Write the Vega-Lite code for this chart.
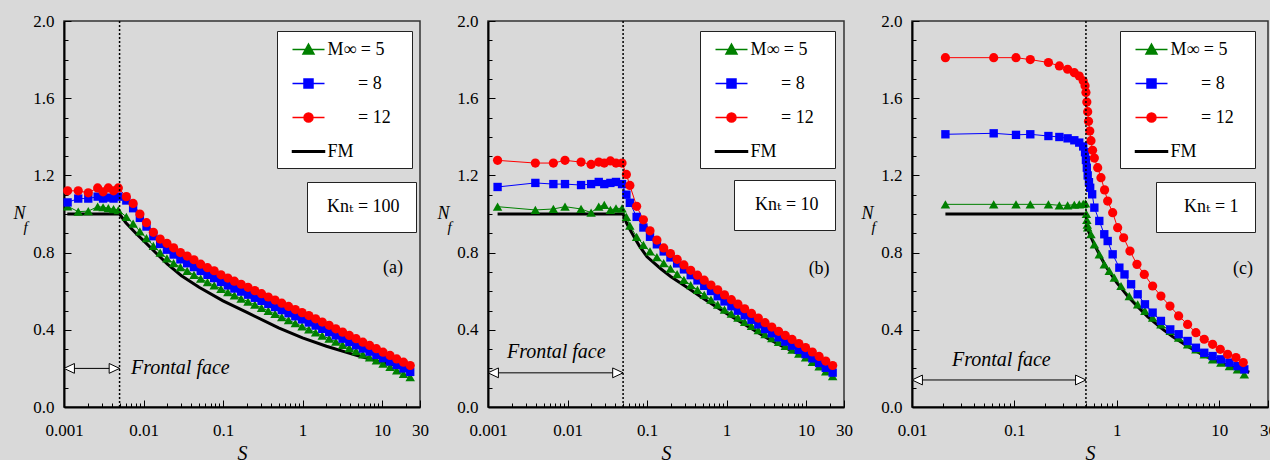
{
"$schema":"https://vega.github.io/schema/vega-lite/v6.json",
"background":"#d9d9d9",
"padding":{"left":12,"top":11,"right":0,"bottom":0},
"bounds":"flush",
"spacing":68,
"resolve":{"scale":{"color":"independent","fill":"independent","stroke":"independent","shape":"independent","strokeDash":"independent"},"legend":{"fill":"independent","stroke":"independent","shape":"independent","strokeDash":"independent"}},
"datasets":{
"a":[
{"s":"M5","x":0.00111,"y":1.04},{"s":"M5","x":0.00151,"y":1.012},{"s":"M5","x":0.00202,"y":1.015},{"s":"M5","x":0.00265,"y":1.038},{"s":"M5","x":0.0031,"y":1.035},{"s":"M5","x":0.00361,"y":1.03},{"s":"M5","x":0.0042,"y":1.025},{"s":"M5","x":0.00482,"y":1.02},
{"s":"M5","x":0.00608,"y":0.985},{"s":"M5","x":0.0074,"y":0.95},{"s":"M5","x":0.009,"y":0.91},{"s":"M5","x":0.0109,"y":0.875},{"s":"M5","x":0.0133,"y":0.835},{"s":"M5","x":0.0162,"y":0.8},{"s":"M5","x":0.0197,"y":0.77},{"s":"M5","x":0.0239,"y":0.745},{"s":"M5","x":0.0291,"y":0.725},{"s":"M5","x":0.0354,"y":0.705},{"s":"M5","x":0.0431,"y":0.685},{"s":"M5","x":0.0524,"y":0.665},{"s":"M5","x":0.0637,"y":0.647},{"s":"M5","x":0.0774,"y":0.63},{"s":"M5","x":0.0942,"y":0.612},{"s":"M5","x":0.115,"y":0.595},{"s":"M5","x":0.139,"y":0.578},{"s":"M5","x":0.169,"y":0.562},{"s":"M5","x":0.206,"y":0.546},{"s":"M5","x":0.251,"y":0.53},{"s":"M5","x":0.305,"y":0.514},{"s":"M5","x":0.371,"y":0.498},{"s":"M5","x":0.451,"y":0.482},{"s":"M5","x":0.548,"y":0.466},{"s":"M5","x":0.667,"y":0.45},{"s":"M5","x":0.811,"y":0.434},{"s":"M5","x":0.986,"y":0.418},{"s":"M5","x":1.2,"y":0.402},{"s":"M5","x":1.46,"y":0.386},{"s":"M5","x":1.77,"y":0.37},{"s":"M5","x":2.16,"y":0.354},{"s":"M5","x":2.62,"y":0.338},{"s":"M5","x":3.19,"y":0.322},{"s":"M5","x":3.88,"y":0.305},{"s":"M5","x":4.72,"y":0.289},{"s":"M5","x":5.74,"y":0.273},{"s":"M5","x":6.98,"y":0.257},{"s":"M5","x":8.49,"y":0.241},{"s":"M5","x":10.3,"y":0.225},{"s":"M5","x":12.6,"y":0.208},{"s":"M5","x":15.3,"y":0.19},{"s":"M5","x":18.6,"y":0.172},{"s":"M5","x":22.6,"y":0.155},
{"s":"M8","x":0.00111,"y":1.06},{"s":"M8","x":0.00151,"y":1.08},{"s":"M8","x":0.00202,"y":1.08},{"s":"M8","x":0.00265,"y":1.09},{"s":"M8","x":0.0031,"y":1.08},{"s":"M8","x":0.00361,"y":1.085},{"s":"M8","x":0.0042,"y":1.08},{"s":"M8","x":0.00482,"y":1.09},
{"s":"M8","x":0.00608,"y":1.07},{"s":"M8","x":0.0074,"y":1.03},{"s":"M8","x":0.009,"y":0.98},{"s":"M8","x":0.0109,"y":0.935},{"s":"M8","x":0.0133,"y":0.885},{"s":"M8","x":0.0162,"y":0.845},{"s":"M8","x":0.0197,"y":0.815},{"s":"M8","x":0.0239,"y":0.79},{"s":"M8","x":0.0291,"y":0.765},{"s":"M8","x":0.0354,"y":0.745},{"s":"M8","x":0.0431,"y":0.725},{"s":"M8","x":0.0524,"y":0.705},{"s":"M8","x":0.0637,"y":0.685},{"s":"M8","x":0.0774,"y":0.668},{"s":"M8","x":0.0942,"y":0.648},{"s":"M8","x":0.115,"y":0.63},{"s":"M8","x":0.139,"y":0.614},{"s":"M8","x":0.169,"y":0.598},{"s":"M8","x":0.206,"y":0.582},{"s":"M8","x":0.251,"y":0.566},{"s":"M8","x":0.305,"y":0.55},{"s":"M8","x":0.371,"y":0.534},{"s":"M8","x":0.451,"y":0.518},{"s":"M8","x":0.548,"y":0.502},{"s":"M8","x":0.667,"y":0.486},{"s":"M8","x":0.811,"y":0.47},{"s":"M8","x":0.986,"y":0.454},{"s":"M8","x":1.2,"y":0.438},{"s":"M8","x":1.46,"y":0.422},{"s":"M8","x":1.77,"y":0.405},{"s":"M8","x":2.16,"y":0.388},{"s":"M8","x":2.62,"y":0.371},{"s":"M8","x":3.19,"y":0.354},{"s":"M8","x":3.88,"y":0.337},{"s":"M8","x":4.72,"y":0.32},{"s":"M8","x":5.74,"y":0.303},{"s":"M8","x":6.98,"y":0.287},{"s":"M8","x":8.49,"y":0.27},{"s":"M8","x":10.3,"y":0.253},{"s":"M8","x":12.6,"y":0.236},{"s":"M8","x":15.3,"y":0.218},{"s":"M8","x":18.6,"y":0.2},{"s":"M8","x":22.6,"y":0.182},
{"s":"M12","x":0.00111,"y":1.12},{"s":"M12","x":0.00151,"y":1.12},{"s":"M12","x":0.00202,"y":1.11},{"s":"M12","x":0.00265,"y":1.135},{"s":"M12","x":0.0031,"y":1.115},{"s":"M12","x":0.00361,"y":1.135},{"s":"M12","x":0.0042,"y":1.12},{"s":"M12","x":0.00482,"y":1.135},
{"s":"M12","x":0.00608,"y":1.09},{"s":"M12","x":0.0074,"y":1.055},{"s":"M12","x":0.009,"y":1.0},{"s":"M12","x":0.0109,"y":0.955},{"s":"M12","x":0.0133,"y":0.905},{"s":"M12","x":0.0162,"y":0.87},{"s":"M12","x":0.0197,"y":0.848},{"s":"M12","x":0.0239,"y":0.825},{"s":"M12","x":0.0291,"y":0.8},{"s":"M12","x":0.0354,"y":0.782},{"s":"M12","x":0.0431,"y":0.763},{"s":"M12","x":0.0524,"y":0.74},{"s":"M12","x":0.0637,"y":0.722},{"s":"M12","x":0.0774,"y":0.706},{"s":"M12","x":0.0942,"y":0.685},{"s":"M12","x":0.115,"y":0.668},{"s":"M12","x":0.139,"y":0.652},{"s":"M12","x":0.169,"y":0.636},{"s":"M12","x":0.206,"y":0.62},{"s":"M12","x":0.251,"y":0.603},{"s":"M12","x":0.305,"y":0.587},{"s":"M12","x":0.371,"y":0.57},{"s":"M12","x":0.451,"y":0.554},{"s":"M12","x":0.548,"y":0.538},{"s":"M12","x":0.667,"y":0.521},{"s":"M12","x":0.811,"y":0.505},{"s":"M12","x":0.986,"y":0.489},{"s":"M12","x":1.2,"y":0.474},{"s":"M12","x":1.46,"y":0.457},{"s":"M12","x":1.77,"y":0.44},{"s":"M12","x":2.16,"y":0.423},{"s":"M12","x":2.62,"y":0.405},{"s":"M12","x":3.19,"y":0.388},{"s":"M12","x":3.88,"y":0.371},{"s":"M12","x":4.72,"y":0.354},{"s":"M12","x":5.74,"y":0.336},{"s":"M12","x":6.98,"y":0.319},{"s":"M12","x":8.49,"y":0.302},{"s":"M12","x":10.3,"y":0.284},{"s":"M12","x":12.6,"y":0.267},{"s":"M12","x":15.3,"y":0.249},{"s":"M12","x":18.6,"y":0.232},{"s":"M12","x":22.6,"y":0.215}
],
"fa":[{"x":0.0011,"y":1.0},{"x":0.005,"y":1.0},{"x":0.006,"y":0.955},{"x":0.008,"y":0.9},{"x":0.01,"y":0.862},{"x":0.015,"y":0.79},{"x":0.02,"y":0.74},{"x":0.03,"y":0.68},{"x":0.05,"y":0.62},{"x":0.1,"y":0.55},{"x":0.2,"y":0.49},{"x":0.5,"y":0.41},{"x":1,"y":0.358},{"x":2,"y":0.315},{"x":5,"y":0.265},{"x":10,"y":0.232},{"x":20,"y":0.205},{"x":23,"y":0.2}],
"b":[
{"s":"M5","x":0.00132,"y":1.038},{"s":"M5","x":0.00394,"y":1.021},{"s":"M5","x":0.00664,"y":1.026},{"s":"M5","x":0.0093,"y":1.038},{"s":"M5","x":0.0148,"y":1.026},{"s":"M5","x":0.0198,"y":1.007},{"s":"M5","x":0.0247,"y":1.038},{"s":"M5","x":0.029,"y":1.047},{"s":"M5","x":0.0346,"y":1.021},{"s":"M5","x":0.0407,"y":1.029},{"s":"M5","x":0.0485,"y":1.029},{"s":"M5","x":0.055,"y":0.985},
{"s":"M5","x":0.0608,"y":0.94},{"s":"M5","x":0.074,"y":0.882},{"s":"M5","x":0.09,"y":0.84},{"s":"M5","x":0.109,"y":0.806},{"s":"M5","x":0.133,"y":0.776},{"s":"M5","x":0.162,"y":0.746},{"s":"M5","x":0.197,"y":0.717},{"s":"M5","x":0.239,"y":0.688},{"s":"M5","x":0.291,"y":0.659},{"s":"M5","x":0.354,"y":0.632},{"s":"M5","x":0.431,"y":0.607},{"s":"M5","x":0.524,"y":0.581},{"s":"M5","x":0.637,"y":0.556},{"s":"M5","x":0.774,"y":0.53},{"s":"M5","x":0.942,"y":0.505},{"s":"M5","x":1.15,"y":0.484},{"s":"M5","x":1.39,"y":0.463},{"s":"M5","x":1.69,"y":0.441},{"s":"M5","x":2.06,"y":0.42},{"s":"M5","x":2.51,"y":0.398},{"s":"M5","x":3.05,"y":0.377},{"s":"M5","x":3.71,"y":0.357},{"s":"M5","x":4.51,"y":0.337},{"s":"M5","x":5.48,"y":0.317},{"s":"M5","x":6.67,"y":0.297},{"s":"M5","x":8.11,"y":0.277},{"s":"M5","x":9.86,"y":0.257},{"s":"M5","x":12,"y":0.234},{"s":"M5","x":14.6,"y":0.21},{"s":"M5","x":17.7,"y":0.185},{"s":"M5","x":21.6,"y":0.16},
{"s":"M8","x":0.00132,"y":1.14},{"s":"M8","x":0.00394,"y":1.161},{"s":"M8","x":0.00664,"y":1.155},{"s":"M8","x":0.0093,"y":1.155},{"s":"M8","x":0.0148,"y":1.15},{"s":"M8","x":0.0198,"y":1.155},{"s":"M8","x":0.0247,"y":1.166},{"s":"M8","x":0.029,"y":1.155},{"s":"M8","x":0.0346,"y":1.161},{"s":"M8","x":0.0407,"y":1.166},{"s":"M8","x":0.0485,"y":1.155},{"s":"M8","x":0.055,"y":1.1},
{"s":"M8","x":0.0608,"y":1.058},{"s":"M8","x":0.074,"y":0.985},{"s":"M8","x":0.09,"y":0.93},{"s":"M8","x":0.109,"y":0.882},{"s":"M8","x":0.133,"y":0.843},{"s":"M8","x":0.162,"y":0.806},{"s":"M8","x":0.197,"y":0.775},{"s":"M8","x":0.239,"y":0.744},{"s":"M8","x":0.291,"y":0.713},{"s":"M8","x":0.354,"y":0.683},{"s":"M8","x":0.431,"y":0.656},{"s":"M8","x":0.524,"y":0.628},{"s":"M8","x":0.637,"y":0.601},{"s":"M8","x":0.774,"y":0.574},{"s":"M8","x":0.942,"y":0.547},{"s":"M8","x":1.15,"y":0.522},{"s":"M8","x":1.39,"y":0.499},{"s":"M8","x":1.69,"y":0.475},{"s":"M8","x":2.06,"y":0.452},{"s":"M8","x":2.51,"y":0.428},{"s":"M8","x":3.05,"y":0.404},{"s":"M8","x":3.71,"y":0.382},{"s":"M8","x":4.51,"y":0.361},{"s":"M8","x":5.48,"y":0.339},{"s":"M8","x":6.67,"y":0.318},{"s":"M8","x":8.11,"y":0.296},{"s":"M8","x":9.86,"y":0.274},{"s":"M8","x":12,"y":0.252},{"s":"M8","x":14.6,"y":0.228},{"s":"M8","x":17.7,"y":0.203},{"s":"M8","x":21.6,"y":0.178},
{"s":"M12","x":0.00132,"y":1.278},{"s":"M12","x":0.00394,"y":1.264},{"s":"M12","x":0.00664,"y":1.264},{"s":"M12","x":0.0093,"y":1.278},{"s":"M12","x":0.0148,"y":1.269},{"s":"M12","x":0.0198,"y":1.257},{"s":"M12","x":0.0247,"y":1.269},{"s":"M12","x":0.029,"y":1.264},{"s":"M12","x":0.0346,"y":1.275},{"s":"M12","x":0.0407,"y":1.264},{"s":"M12","x":0.0485,"y":1.264},{"s":"M12","x":0.055,"y":1.205},
{"s":"M12","x":0.0608,"y":1.148},{"s":"M12","x":0.074,"y":1.04},{"s":"M12","x":0.09,"y":0.97},{"s":"M12","x":0.109,"y":0.913},{"s":"M12","x":0.133,"y":0.865},{"s":"M12","x":0.162,"y":0.824},{"s":"M12","x":0.197,"y":0.795},{"s":"M12","x":0.239,"y":0.765},{"s":"M12","x":0.291,"y":0.736},{"s":"M12","x":0.354,"y":0.708},{"s":"M12","x":0.431,"y":0.683},{"s":"M12","x":0.524,"y":0.657},{"s":"M12","x":0.637,"y":0.632},{"s":"M12","x":0.774,"y":0.607},{"s":"M12","x":0.942,"y":0.581},{"s":"M12","x":1.15,"y":0.556},{"s":"M12","x":1.39,"y":0.533},{"s":"M12","x":1.69,"y":0.509},{"s":"M12","x":2.06,"y":0.485},{"s":"M12","x":2.51,"y":0.461},{"s":"M12","x":3.05,"y":0.437},{"s":"M12","x":3.71,"y":0.414},{"s":"M12","x":4.51,"y":0.392},{"s":"M12","x":5.48,"y":0.371},{"s":"M12","x":6.67,"y":0.35},{"s":"M12","x":8.11,"y":0.329},{"s":"M12","x":9.86,"y":0.308},{"s":"M12","x":12,"y":0.285},{"s":"M12","x":14.6,"y":0.262},{"s":"M12","x":17.7,"y":0.238},{"s":"M12","x":21.6,"y":0.215}
],
"fb":[{"x":0.00132,"y":1.0},{"x":0.05,"y":1.0},{"x":0.055,"y":0.955},{"x":0.06,"y":0.925},{"x":0.07,"y":0.875},{"x":0.08,"y":0.835},{"x":0.1,"y":0.778},{"x":0.15,"y":0.715},{"x":0.2,"y":0.675},{"x":0.3,"y":0.627},{"x":0.5,"y":0.565},{"x":1,"y":0.485},{"x":2,"y":0.41},{"x":3.3,"y":0.355},{"x":5,"y":0.315},{"x":10,"y":0.256},{"x":15,"y":0.225},{"x":23,"y":0.2}],
"c":[
{"s":"M5","x":0.0212,"y":1.05},{"s":"M5","x":0.0628,"y":1.05},{"s":"M5","x":0.1037,"y":1.05},{"s":"M5","x":0.143,"y":1.05},{"s":"M5","x":0.215,"y":1.05},{"s":"M5","x":0.275,"y":1.045},{"s":"M5","x":0.331,"y":1.045},{"s":"M5","x":0.385,"y":1.048},{"s":"M5","x":0.43,"y":1.05},{"s":"M5","x":0.47,"y":1.052},{"s":"M5","x":0.495,"y":1.055},{"s":"M5","x":0.505,"y":1.0},{"s":"M5","x":0.51,"y":0.97},{"s":"M5","x":0.515,"y":0.945},{"s":"M5","x":0.52,"y":0.93},{"s":"M5","x":0.56,"y":0.895},{"s":"M5","x":0.604,"y":0.843},{"s":"M5","x":0.675,"y":0.791},{"s":"M5","x":0.755,"y":0.739},{"s":"M5","x":0.845,"y":0.705},{"s":"M5","x":0.946,"y":0.67},{"s":"M5","x":1.1,"y":0.627},{"s":"M5","x":1.325,"y":0.575},{"s":"M5","x":1.6,"y":0.532},{"s":"M5","x":1.885,"y":0.498},{"s":"M5","x":2.24,"y":0.463},{"s":"M5","x":2.7,"y":0.428},{"s":"M5","x":3.33,"y":0.394},{"s":"M5","x":4.02,"y":0.359},{"s":"M5","x":4.92,"y":0.325},{"s":"M5","x":5.93,"y":0.299},{"s":"M5","x":7.15,"y":0.273},{"s":"M5","x":8.63,"y":0.247},{"s":"M5","x":10.4,"y":0.23},{"s":"M5","x":12.6,"y":0.212},{"s":"M5","x":15.1,"y":0.195},{"s":"M5","x":17.6,"y":0.169},
{"s":"M8","x":0.0212,"y":1.413},{"s":"M8","x":0.0628,"y":1.418},{"s":"M8","x":0.1037,"y":1.41},{"s":"M8","x":0.143,"y":1.413},{"s":"M8","x":0.215,"y":1.404},{"s":"M8","x":0.275,"y":1.399},{"s":"M8","x":0.331,"y":1.392},{"s":"M8","x":0.385,"y":1.382},{"s":"M8","x":0.43,"y":1.37},{"s":"M8","x":0.47,"y":1.35},{"s":"M8","x":0.49,"y":1.32},{"s":"M8","x":0.5,"y":1.28},{"s":"M8","x":0.51,"y":1.24},{"s":"M8","x":0.52,"y":1.2},{"s":"M8","x":0.535,"y":1.165},{"s":"M8","x":0.55,"y":1.136},{"s":"M8","x":0.575,"y":1.102},{"s":"M8","x":0.604,"y":1.033},{"s":"M8","x":0.675,"y":0.964},{"s":"M8","x":0.755,"y":0.895},{"s":"M8","x":0.815,"y":0.86},{"s":"M8","x":0.912,"y":0.791},{"s":"M8","x":1.06,"y":0.722},{"s":"M8","x":1.19,"y":0.687},{"s":"M8","x":1.38,"y":0.636},{"s":"M8","x":1.6,"y":0.584},{"s":"M8","x":1.885,"y":0.532},{"s":"M8","x":2.24,"y":0.489},{"s":"M8","x":2.7,"y":0.446},{"s":"M8","x":3.33,"y":0.402},{"s":"M8","x":4.02,"y":0.377},{"s":"M8","x":4.92,"y":0.342},{"s":"M8","x":5.93,"y":0.307},{"s":"M8","x":7.15,"y":0.281},{"s":"M8","x":8.63,"y":0.264},{"s":"M8","x":10.4,"y":0.247},{"s":"M8","x":12.6,"y":0.23},{"s":"M8","x":15.1,"y":0.212},{"s":"M8","x":17.6,"y":0.195},
{"s":"M12","x":0.0212,"y":1.81},{"s":"M12","x":0.0628,"y":1.81},{"s":"M12","x":0.1037,"y":1.81},{"s":"M12","x":0.143,"y":1.8},{"s":"M12","x":0.215,"y":1.785},{"s":"M12","x":0.275,"y":1.767},{"s":"M12","x":0.331,"y":1.75},{"s":"M12","x":0.385,"y":1.732},{"s":"M12","x":0.43,"y":1.715},{"s":"M12","x":0.47,"y":1.69},{"s":"M12","x":0.49,"y":1.665},{"s":"M12","x":0.5,"y":1.63},{"s":"M12","x":0.51,"y":1.58},{"s":"M12","x":0.52,"y":1.53},{"s":"M12","x":0.53,"y":1.48},{"s":"M12","x":0.545,"y":1.43},{"s":"M12","x":0.56,"y":1.38},{"s":"M12","x":0.58,"y":1.33},{"s":"M12","x":0.604,"y":1.29},{"s":"M12","x":0.651,"y":1.24},{"s":"M12","x":0.701,"y":1.188},{"s":"M12","x":0.76,"y":1.125},{"s":"M12","x":0.815,"y":1.067},{"s":"M12","x":0.912,"y":1.007},{"s":"M12","x":1.02,"y":0.929},{"s":"M12","x":1.167,"y":0.877},{"s":"M12","x":1.345,"y":0.808},{"s":"M12","x":1.575,"y":0.739},{"s":"M12","x":1.857,"y":0.687},{"s":"M12","x":2.24,"y":0.627},{"s":"M12","x":2.7,"y":0.575},{"s":"M12","x":3.31,"y":0.523},{"s":"M12","x":4.02,"y":0.472},{"s":"M12","x":4.92,"y":0.428},{"s":"M12","x":5.93,"y":0.385},{"s":"M12","x":7.15,"y":0.351},{"s":"M12","x":8.63,"y":0.325},{"s":"M12","x":10.25,"y":0.299},{"s":"M12","x":12.1,"y":0.273},{"s":"M12","x":14.6,"y":0.256},{"s":"M12","x":17.2,"y":0.23}
],
"fc":[{"x":0.0212,"y":1.0},{"x":0.5,"y":1.0},{"x":0.51,"y":0.95},{"x":0.53,"y":0.91},{"x":0.56,"y":0.88},{"x":0.6,"y":0.845},{"x":0.7,"y":0.775},{"x":0.8,"y":0.72},{"x":1.0,"y":0.645},{"x":1.3,"y":0.57},{"x":1.6,"y":0.52},{"x":2,"y":0.468},{"x":2.7,"y":0.41},{"x":3.5,"y":0.365},{"x":5,"y":0.312},{"x":7,"y":0.268},{"x":10,"y":0.232},{"x":14,"y":0.205},{"x":19.7,"y":0.18}]
},
"hconcat":[
{"width":356,"height":386,
"resolve":{"axis":{"x":"independent","y":"independent"}},
"layer":[
{"data":{"name":"fa"},"mark":{"type":"line","color":"black","strokeWidth":3},
"encoding":{"x":{"field":"x","type":"quantitative","scale":{"type":"log","domain":[0.001,30],"nice":false},
"axis":{"orient":"bottom","values":[0.001,0.01,0.1,1,10,30],"labelExpr":"toString(datum.value)","tickSize":-7,"labelPadding":22,"title":"S","titleFontSize":20,"titleY":46,"titleBaseline":"middle"}},
"y":{"field":"y","type":"quantitative","scale":{"domain":[0,2],"nice":false,"zero":false},
"axis":{"orient":"left","values":[0,0.4,0.8,1.2,1.6,2],"format":".1f","tickSize":-7,"labelPadding":17,"title":"N","titleAngle":0,"titleAlign":"left","titleBaseline":"middle","titleX":-51,"titleY":192,"titleFontSize":18}}}},
{"data":{"name":"a"},"mark":{"type":"line","strokeWidth":1},
"encoding":{"x":{"field":"x","type":"quantitative","scale":{"type":"log","domain":[0.001,30],"nice":false},"axis":null},
"y":{"field":"y","type":"quantitative","scale":{"domain":[0,2],"nice":false,"zero":false},"axis":null},
"color":{"field":"s","type":"nominal","scale":{"domain":["M5","M8","M12"],"range":["#008000","#0000ff","#ff0000"]},"legend":null}}},
{"data":{"name":"a"},"transform":[{"filter":"datum.s=='M5'"}],"mark":{"type":"point","filled":true,"opacity":1,"shape":"triangle-up","size":90,"color":"#008000"},
"encoding":{"x":{"field":"x","type":"quantitative","scale":{"type":"log","domain":[0.001,30],"nice":false},
"axis":{"orient":"bottom","values":[0.002,0.003,0.004,0.005,0.006,0.007,0.008,0.009,0.02,0.03,0.04,0.05,0.06,0.07,0.08,0.09,0.2,0.3,0.4,0.5,0.6,0.7,0.8,0.9,2,3,4,5,6,7,8,9,20],"tickSize":-4,"labels":false,"domain":false,"title":null}},
"y":{"field":"y","type":"quantitative","scale":{"domain":[0,2],"nice":false,"zero":false},
"axis":{"orient":"left","values":[0.1,0.2,0.3,0.5,0.6,0.7,0.9,1,1.1,1.3,1.4,1.5,1.7,1.8,1.9],"tickSize":-4,"labels":false,"domain":false,"title":"f","titleAngle":0,"titleAlign":"left","titleBaseline":"middle","titleX":-41,"titleY":205,"titleFontSize":15}}}},
{"data":{"name":"a"},"transform":[{"filter":"datum.s=='M8'"}],"mark":{"type":"point","filled":true,"opacity":1,"shape":"square","size":70,"color":"#0000ff"},
"encoding":{"x":{"field":"x","type":"quantitative","scale":{"type":"log","domain":[0.001,30],"nice":false},"axis":null},
"y":{"field":"y","type":"quantitative","scale":{"domain":[0,2],"nice":false,"zero":false},"axis":null}}},
{"data":{"name":"a"},"transform":[{"filter":"datum.s=='M12'"}],"mark":{"type":"point","filled":true,"opacity":1,"shape":"circle","size":85,"color":"#ff0000"},
"encoding":{"x":{"field":"x","type":"quantitative","scale":{"type":"log","domain":[0.001,30],"nice":false},"axis":null},
"y":{"field":"y","type":"quantitative","scale":{"domain":[0,2],"nice":false,"zero":false},"axis":null}}},
{"data":{"name":"a"},"transform":[{"filter":"false"}],"mark":{"type":"point","filled":true,"opacity":1},
"encoding":{
"fill":{"field":"s","type":"nominal","scale":{"domain":["M5","M8","M12","FM"],"range":["#008000","#0000ff","#ff0000","#000000"]},
"legend":{"orient":"none","legendX":213,"legendY":10,"title":null,"padding":7.5,"rowPadding":14,"symbolSize":400,"symbolStrokeWidth":1.5,"symbolOffset":13,"labelOffset":8,"labelExpr":"datum.value=='M5'?'M\u221e = 5':datum.value=='M8'?'\u2800\u2800\u00a0= 8':datum.value=='M12'?'\u2800\u2800\u00a0= 12\u2800':'FM'"}},
"stroke":{"field":"s","type":"nominal","scale":{"domain":["M5","M8","M12","FM"],"range":["#008000","#0000ff","#ff0000","#000000"]},"legend":{"title":null}},
"shape":{"field":"s","type":"nominal","scale":{"domain":["M5","M8","M12","FM"],"range":["M-1.6,0H1.6M0,-0.55L0.55,0.45L-0.55,0.45Z","M-1.6,0H1.6M-0.45,-0.45H0.45V0.45H-0.45Z","M-1.6,0H1.6M0.45,0A0.45,0.45 0 1,1 -0.45,0A0.45,0.45 0 1,1 0.45,0Z","M-1.6,-0.08H1.6V0.08H-1.6Z"]},"legend":{"title":null}}}},
{"data":{"values":[{"k":"Kn\u209c = 100"}]},"transform":[{"filter":"false"}],"mark":{"type":"point"},
"encoding":{"strokeDash":{"field":"k","type":"nominal","scale":{"domain":["Kn\u209c = 100"]},
"legend":{"orient":"none","legendX":243,"legendY":161,"title":null,"padding":16,"symbolSize":1,"symbolStrokeWidth":0,"symbolOpacity":0,"labelOffset":-14,"labelFont":"Liberation Serif, DejaVu Serif, DejaVu Sans"}}}},
{"data":{"values":[{}]},"mark":{"type":"rule","strokeDash":[2,2],"strokeWidth":1.5,"color":"black"},
"encoding":{"x":{"datum":0.005,"type":"quantitative","scale":{"type":"log","domain":[0.001,30],"nice":false},"axis":null}}},
{"data":{"values":[{}]},"mark":{"type":"rule","strokeWidth":1,"color":"black"},
"encoding":{"x":{"datum":0.001,"type":"quantitative","scale":{"type":"log","domain":[0.001,30],"nice":false},"axis":null},"x2":{"datum":0.005},
"y":{"datum":0.2,"type":"quantitative","scale":{"domain":[0,2],"nice":false,"zero":false},"axis":null}}},
{"data":{"values":[{}]},"mark":{"type":"point","shape":"M0,0L1.7,-0.8L1.7,0.8Z","size":150,"filled":true,"fill":"white","stroke":"black","strokeWidth":1,"opacity":1},
"encoding":{"x":{"datum":0.001,"type":"quantitative","scale":{"type":"log","domain":[0.001,30],"nice":false},"axis":null},
"y":{"datum":0.2,"type":"quantitative","scale":{"domain":[0,2],"nice":false,"zero":false},"axis":null}}},
{"data":{"values":[{}]},"mark":{"type":"point","shape":"M0,0L-1.7,-0.8L-1.7,0.8Z","size":150,"filled":true,"fill":"white","stroke":"black","strokeWidth":1,"opacity":1},
"encoding":{"x":{"datum":0.005,"type":"quantitative","scale":{"type":"log","domain":[0.001,30],"nice":false},"axis":null},
"y":{"datum":0.2,"type":"quantitative","scale":{"domain":[0,2],"nice":false,"zero":false},"axis":null}}},
{"data":{"values":[{}]},"mark":{"type":"text","text":"Frontal face","align":"left","baseline":"middle","fontStyle":"italic","fontSize":20},
"encoding":{"x":{"datum":0.00697,"type":"quantitative","scale":{"type":"log","domain":[0.001,30],"nice":false},"axis":null},
"y":{"datum":0.204,"type":"quantitative","scale":{"domain":[0,2],"nice":false,"zero":false},"axis":null}}},
{"data":{"values":[{}]},"mark":{"type":"text","text":"(a)","align":"center","baseline":"middle","fontSize":18},
"encoding":{"x":{"datum":13.7,"type":"quantitative","scale":{"type":"log","domain":[0.001,30],"nice":false},"axis":null},
"y":{"datum":0.72,"type":"quantitative","scale":{"domain":[0,2],"nice":false,"zero":false},"axis":null}}}
]},
{"width":356,"height":386,
"resolve":{"axis":{"x":"independent","y":"independent"}},
"layer":[
{"data":{"name":"fb"},"mark":{"type":"line","color":"black","strokeWidth":3},
"encoding":{"x":{"field":"x","type":"quantitative","scale":{"type":"log","domain":[0.001,30],"nice":false},
"axis":{"orient":"bottom","values":[0.001,0.01,0.1,1,10,30],"labelExpr":"toString(datum.value)","tickSize":-7,"labelPadding":22,"title":"S","titleFontSize":20,"titleY":46,"titleBaseline":"middle"}},
"y":{"field":"y","type":"quantitative","scale":{"domain":[0,2],"nice":false,"zero":false},
"axis":{"orient":"left","values":[0,0.4,0.8,1.2,1.6,2],"format":".1f","tickSize":-7,"labelPadding":17,"title":"N","titleAngle":0,"titleAlign":"left","titleBaseline":"middle","titleX":-51,"titleY":192,"titleFontSize":18}}}},
{"data":{"name":"b"},"mark":{"type":"line","strokeWidth":1},
"encoding":{"x":{"field":"x","type":"quantitative","scale":{"type":"log","domain":[0.001,30],"nice":false},"axis":null},
"y":{"field":"y","type":"quantitative","scale":{"domain":[0,2],"nice":false,"zero":false},"axis":null},
"color":{"field":"s","type":"nominal","scale":{"domain":["M5","M8","M12"],"range":["#008000","#0000ff","#ff0000"]},"legend":null}}},
{"data":{"name":"b"},"transform":[{"filter":"datum.s=='M5'"}],"mark":{"type":"point","filled":true,"opacity":1,"shape":"triangle-up","size":90,"color":"#008000"},
"encoding":{"x":{"field":"x","type":"quantitative","scale":{"type":"log","domain":[0.001,30],"nice":false},
"axis":{"orient":"bottom","values":[0.002,0.003,0.004,0.005,0.006,0.007,0.008,0.009,0.02,0.03,0.04,0.05,0.06,0.07,0.08,0.09,0.2,0.3,0.4,0.5,0.6,0.7,0.8,0.9,2,3,4,5,6,7,8,9,20],"tickSize":-4,"labels":false,"domain":false,"title":null}},
"y":{"field":"y","type":"quantitative","scale":{"domain":[0,2],"nice":false,"zero":false},
"axis":{"orient":"left","values":[0.1,0.2,0.3,0.5,0.6,0.7,0.9,1,1.1,1.3,1.4,1.5,1.7,1.8,1.9],"tickSize":-4,"labels":false,"domain":false,"title":"f","titleAngle":0,"titleAlign":"left","titleBaseline":"middle","titleX":-41,"titleY":205,"titleFontSize":15}}}},
{"data":{"name":"b"},"transform":[{"filter":"datum.s=='M8'"}],"mark":{"type":"point","filled":true,"opacity":1,"shape":"square","size":70,"color":"#0000ff"},
"encoding":{"x":{"field":"x","type":"quantitative","scale":{"type":"log","domain":[0.001,30],"nice":false},"axis":null},
"y":{"field":"y","type":"quantitative","scale":{"domain":[0,2],"nice":false,"zero":false},"axis":null}}},
{"data":{"name":"b"},"transform":[{"filter":"datum.s=='M12'"}],"mark":{"type":"point","filled":true,"opacity":1,"shape":"circle","size":85,"color":"#ff0000"},
"encoding":{"x":{"field":"x","type":"quantitative","scale":{"type":"log","domain":[0.001,30],"nice":false},"axis":null},
"y":{"field":"y","type":"quantitative","scale":{"domain":[0,2],"nice":false,"zero":false},"axis":null}}},
{"data":{"name":"b"},"transform":[{"filter":"false"}],"mark":{"type":"point","filled":true,"opacity":1},
"encoding":{
"fill":{"field":"s","type":"nominal","scale":{"domain":["M5","M8","M12","FM"],"range":["#008000","#0000ff","#ff0000","#000000"]},
"legend":{"orient":"none","legendX":212,"legendY":10,"title":null,"padding":7.5,"rowPadding":14,"symbolSize":400,"symbolStrokeWidth":1.5,"symbolOffset":13,"labelOffset":8,"labelExpr":"datum.value=='M5'?'M\u221e = 5':datum.value=='M8'?'\u2800\u2800\u00a0= 8':datum.value=='M12'?'\u2800\u2800\u00a0= 12\u2800':'FM'"}},
"stroke":{"field":"s","type":"nominal","scale":{"domain":["M5","M8","M12","FM"],"range":["#008000","#0000ff","#ff0000","#000000"]},"legend":{"title":null}},
"shape":{"field":"s","type":"nominal","scale":{"domain":["M5","M8","M12","FM"],"range":["M-1.6,0H1.6M0,-0.55L0.55,0.45L-0.55,0.45Z","M-1.6,0H1.6M-0.45,-0.45H0.45V0.45H-0.45Z","M-1.6,0H1.6M0.45,0A0.45,0.45 0 1,1 -0.45,0A0.45,0.45 0 1,1 0.45,0Z","M-1.6,-0.08H1.6V0.08H-1.6Z"]},"legend":{"title":null}}}},
{"data":{"values":[{"k":"Kn\u209c = 10"}]},"transform":[{"filter":"false"}],"mark":{"type":"point"},
"encoding":{"strokeDash":{"field":"k","type":"nominal","scale":{"domain":["Kn\u209c = 10"]},
"legend":{"orient":"none","legendX":246,"legendY":159,"title":null,"padding":16,"symbolSize":1,"symbolStrokeWidth":0,"symbolOpacity":0,"labelOffset":-13,"labelFont":"Liberation Serif, DejaVu Serif, DejaVu Sans"}}}},
{"data":{"values":[{}]},"mark":{"type":"rule","strokeDash":[2,2],"strokeWidth":1.5,"color":"black"},
"encoding":{"x":{"datum":0.05,"type":"quantitative","scale":{"type":"log","domain":[0.001,30],"nice":false},"axis":null}}},
{"data":{"values":[{}]},"mark":{"type":"rule","strokeWidth":1,"color":"black"},
"encoding":{"x":{"datum":0.001,"type":"quantitative","scale":{"type":"log","domain":[0.001,30],"nice":false},"axis":null},"x2":{"datum":0.05},
"y":{"datum":0.177,"type":"quantitative","scale":{"domain":[0,2],"nice":false,"zero":false},"axis":null}}},
{"data":{"values":[{}]},"mark":{"type":"point","shape":"M0,0L1.7,-0.8L1.7,0.8Z","size":150,"filled":true,"fill":"white","stroke":"black","strokeWidth":1,"opacity":1},
"encoding":{"x":{"datum":0.001,"type":"quantitative","scale":{"type":"log","domain":[0.001,30],"nice":false},"axis":null},
"y":{"datum":0.177,"type":"quantitative","scale":{"domain":[0,2],"nice":false,"zero":false},"axis":null}}},
{"data":{"values":[{}]},"mark":{"type":"point","shape":"M0,0L-1.7,-0.8L-1.7,0.8Z","size":150,"filled":true,"fill":"white","stroke":"black","strokeWidth":1,"opacity":1},
"encoding":{"x":{"datum":0.05,"type":"quantitative","scale":{"type":"log","domain":[0.001,30],"nice":false},"axis":null},
"y":{"datum":0.177,"type":"quantitative","scale":{"domain":[0,2],"nice":false,"zero":false},"axis":null}}},
{"data":{"values":[{}]},"mark":{"type":"text","text":"Frontal face","align":"left","baseline":"middle","fontStyle":"italic","fontSize":20},
"encoding":{"x":{"datum":0.00173,"type":"quantitative","scale":{"type":"log","domain":[0.001,30],"nice":false},"axis":null},
"y":{"datum":0.285,"type":"quantitative","scale":{"domain":[0,2],"nice":false,"zero":false},"axis":null}}},
{"data":{"values":[{}]},"mark":{"type":"text","text":"(b)","align":"center","baseline":"middle","fontSize":18},
"encoding":{"x":{"datum":14.6,"type":"quantitative","scale":{"type":"log","domain":[0.001,30],"nice":false},"axis":null},
"y":{"datum":0.715,"type":"quantitative","scale":{"domain":[0,2],"nice":false,"zero":false},"axis":null}}}
]},
{"width":356,"height":386,
"resolve":{"axis":{"x":"independent","y":"independent"}},
"layer":[
{"data":{"name":"fc"},"mark":{"type":"line","color":"black","strokeWidth":3},
"encoding":{"x":{"field":"x","type":"quantitative","scale":{"type":"log","domain":[0.01,30],"nice":false},
"axis":{"orient":"bottom","values":[0.01,0.1,1,10,30],"labelExpr":"toString(datum.value)","tickSize":-7,"labelPadding":22,"title":"S","titleFontSize":20,"titleY":46,"titleBaseline":"middle"}},
"y":{"field":"y","type":"quantitative","scale":{"domain":[0,2],"nice":false,"zero":false},
"axis":{"orient":"left","values":[0,0.4,0.8,1.2,1.6,2],"format":".1f","tickSize":-7,"labelPadding":17,"title":"N","titleAngle":0,"titleAlign":"left","titleBaseline":"middle","titleX":-51,"titleY":192,"titleFontSize":18}}}},
{"data":{"name":"c"},"mark":{"type":"line","strokeWidth":1},
"encoding":{"x":{"field":"x","type":"quantitative","scale":{"type":"log","domain":[0.01,30],"nice":false},"axis":null},
"y":{"field":"y","type":"quantitative","scale":{"domain":[0,2],"nice":false,"zero":false},"axis":null},
"color":{"field":"s","type":"nominal","scale":{"domain":["M5","M8","M12"],"range":["#008000","#0000ff","#ff0000"]},"legend":null}}},
{"data":{"name":"c"},"transform":[{"filter":"datum.s=='M5'"}],"mark":{"type":"point","filled":true,"opacity":1,"shape":"triangle-up","size":90,"color":"#008000"},
"encoding":{"x":{"field":"x","type":"quantitative","scale":{"type":"log","domain":[0.01,30],"nice":false},
"axis":{"orient":"bottom","values":[0.02,0.03,0.04,0.05,0.06,0.07,0.08,0.09,0.2,0.3,0.4,0.5,0.6,0.7,0.8,0.9,2,3,4,5,6,7,8,9,20],"tickSize":-4,"labels":false,"domain":false,"title":null}},
"y":{"field":"y","type":"quantitative","scale":{"domain":[0,2],"nice":false,"zero":false},
"axis":{"orient":"left","values":[0.1,0.2,0.3,0.5,0.6,0.7,0.9,1,1.1,1.3,1.4,1.5,1.7,1.8,1.9],"tickSize":-4,"labels":false,"domain":false,"title":"f","titleAngle":0,"titleAlign":"left","titleBaseline":"middle","titleX":-41,"titleY":205,"titleFontSize":15}}}},
{"data":{"name":"c"},"transform":[{"filter":"datum.s=='M8'"}],"mark":{"type":"point","filled":true,"opacity":1,"shape":"square","size":70,"color":"#0000ff"},
"encoding":{"x":{"field":"x","type":"quantitative","scale":{"type":"log","domain":[0.01,30],"nice":false},"axis":null},
"y":{"field":"y","type":"quantitative","scale":{"domain":[0,2],"nice":false,"zero":false},"axis":null}}},
{"data":{"name":"c"},"transform":[{"filter":"datum.s=='M12'"}],"mark":{"type":"point","filled":true,"opacity":1,"shape":"circle","size":85,"color":"#ff0000"},
"encoding":{"x":{"field":"x","type":"quantitative","scale":{"type":"log","domain":[0.01,30],"nice":false},"axis":null},
"y":{"field":"y","type":"quantitative","scale":{"domain":[0,2],"nice":false,"zero":false},"axis":null}}},
{"data":{"name":"c"},"transform":[{"filter":"false"}],"mark":{"type":"point","filled":true,"opacity":1},
"encoding":{
"fill":{"field":"s","type":"nominal","scale":{"domain":["M5","M8","M12","FM"],"range":["#008000","#0000ff","#ff0000","#000000"]},
"legend":{"orient":"none","legendX":208,"legendY":10,"title":null,"padding":7.5,"rowPadding":14,"symbolSize":400,"symbolStrokeWidth":1.5,"symbolOffset":13,"labelOffset":8,"labelExpr":"datum.value=='M5'?'M\u221e = 5':datum.value=='M8'?'\u2800\u2800\u00a0= 8':datum.value=='M12'?'\u2800\u2800\u00a0= 12\u2800\u00a0':'FM'"}},
"stroke":{"field":"s","type":"nominal","scale":{"domain":["M5","M8","M12","FM"],"range":["#008000","#0000ff","#ff0000","#000000"]},"legend":{"title":null}},
"shape":{"field":"s","type":"nominal","scale":{"domain":["M5","M8","M12","FM"],"range":["M-1.6,0H1.6M0,-0.55L0.55,0.45L-0.55,0.45Z","M-1.6,0H1.6M-0.45,-0.45H0.45V0.45H-0.45Z","M-1.6,0H1.6M0.45,0A0.45,0.45 0 1,1 -0.45,0A0.45,0.45 0 1,1 0.45,0Z","M-1.6,-0.08H1.6V0.08H-1.6Z"]},"legend":{"title":null}}}},
{"data":{"values":[{"k":"Kn\u209c = 1"}]},"transform":[{"filter":"false"}],"mark":{"type":"point"},
"encoding":{"strokeDash":{"field":"k","type":"nominal","scale":{"domain":["Kn\u209c = 1"]},
"legend":{"orient":"none","legendX":244,"legendY":161,"title":null,"padding":16,"symbolSize":1,"symbolStrokeWidth":0,"symbolOpacity":0,"labelOffset":-6,"labelFont":"Liberation Serif, DejaVu Serif, DejaVu Sans"}}}},
{"data":{"values":[{}]},"mark":{"type":"rule","strokeDash":[2,2],"strokeWidth":1.5,"color":"black"},
"encoding":{"x":{"datum":0.5,"type":"quantitative","scale":{"type":"log","domain":[0.01,30],"nice":false},"axis":null}}},
{"data":{"values":[{}]},"mark":{"type":"rule","strokeWidth":1,"color":"black"},
"encoding":{"x":{"datum":0.01,"type":"quantitative","scale":{"type":"log","domain":[0.01,30],"nice":false},"axis":null},"x2":{"datum":0.5},
"y":{"datum":0.14,"type":"quantitative","scale":{"domain":[0,2],"nice":false,"zero":false},"axis":null}}},
{"data":{"values":[{}]},"mark":{"type":"point","shape":"M0,0L1.7,-0.8L1.7,0.8Z","size":150,"filled":true,"fill":"white","stroke":"black","strokeWidth":1,"opacity":1},
"encoding":{"x":{"datum":0.01,"type":"quantitative","scale":{"type":"log","domain":[0.01,30],"nice":false},"axis":null},
"y":{"datum":0.14,"type":"quantitative","scale":{"domain":[0,2],"nice":false,"zero":false},"axis":null}}},
{"data":{"values":[{}]},"mark":{"type":"point","shape":"M0,0L-1.7,-0.8L-1.7,0.8Z","size":150,"filled":true,"fill":"white","stroke":"black","strokeWidth":1,"opacity":1},
"encoding":{"x":{"datum":0.5,"type":"quantitative","scale":{"type":"log","domain":[0.01,30],"nice":false},"axis":null},
"y":{"datum":0.14,"type":"quantitative","scale":{"domain":[0,2],"nice":false,"zero":false},"axis":null}}},
{"data":{"values":[{}]},"mark":{"type":"text","text":"Frontal face","align":"left","baseline":"middle","fontStyle":"italic","fontSize":20},
"encoding":{"x":{"datum":0.0246,"type":"quantitative","scale":{"type":"log","domain":[0.01,30],"nice":false},"axis":null},
"y":{"datum":0.2435,"type":"quantitative","scale":{"domain":[0,2],"nice":false,"zero":false},"axis":null}}},
{"data":{"values":[{}]},"mark":{"type":"text","text":"(c)","align":"center","baseline":"middle","fontSize":18},
"encoding":{"x":{"datum":17.1,"type":"quantitative","scale":{"type":"log","domain":[0.01,30],"nice":false},"axis":null},
"y":{"datum":0.715,"type":"quantitative","scale":{"domain":[0,2],"nice":false,"zero":false},"axis":null}}}
]}
],
"config":{
"view":{"fill":"white","stroke":"#333333","strokeWidth":1.5},
"axis":{"grid":false,"domainColor":"black","domainWidth":2,"tickColor":"black","tickWidth":1,"labelColor":"black","labelFont":"Liberation Serif","labelFontSize":17,"labelFlush":false,"labelOverlap":false,"titleFont":"Liberation Serif","titleFontWeight":"normal","titleFontStyle":"italic","titleColor":"black"},
"legend":{"labelFont":"Liberation Serif","labelColor":"black","labelFontSize":18,"fillColor":"white","strokeColor":"#222222","titleFont":"Liberation Serif"},
"text":{"font":"Liberation Serif","color":"black"}
}
}
